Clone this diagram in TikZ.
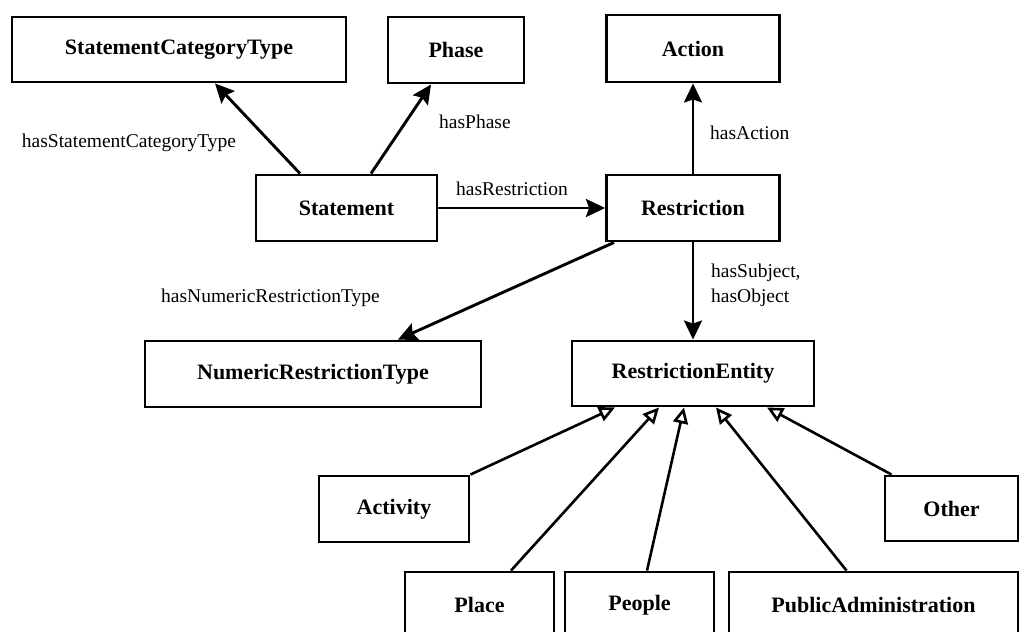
\documentclass[tikz,border=0pt]{standalone}
\usepackage{fontspec}
\setmainfont{Liberation Serif}
\usetikzlibrary{arrows.meta}
\begin{document}
\begin{tikzpicture}[x=1pt,y=-1pt,
  box/.style={draw,line width=2.9pt,inner sep=0pt,font=\bfseries\fontsize{22}{26}\selectfont},
  lbl/.style={inner sep=0pt,font=\fontsize{19.5}{25}\selectfont},
  rel/.style={line width=2.9pt,-{Stealth[length=19pt,width=18pt,inset=3pt]}},
  isa/.style={line width=2.6pt,-{Triangle[open,length=16pt,width=15pt,fill=white]}}]
\useasboundingbox (0,0) rectangle (1021,632);
% boxes
\node[box,minimum width=334pt,minimum height=65pt] (sct) at (179,49.5) {StatementCategoryType};
\node[box,minimum width=136pt,minimum height=66pt] (phase) at (456,50) {Phase};
\node[box,minimum width=173pt,minimum height=67pt] (action) at (693,48.5) {Action};
\node[box,minimum width=181pt,minimum height=66pt] (stmt) at (346.5,208) {Statement};
\node[box,minimum width=173pt,minimum height=66pt] (restr) at (693,208) {Restriction};
\node[box,minimum width=336pt,minimum height=66pt] (nrt) at (313,374) {NumericRestrictionType};
\node[box,minimum width=242pt,minimum height=65pt] (rent) at (693,373.5) {RestrictionEntity};
\node[box,minimum width=150pt,minimum height=66pt] (activity) at (394,509) {Activity};
\node[box,minimum width=133pt,minimum height=65pt] (other) at (951.5,508.5) {Other};
\node[box,minimum width=149pt,minimum height=66pt] (place) at (479.5,605) {Place};
\node[box,minimum width=149pt,minimum height=66pt] (people) at (639.5,605) {People};
\node[box,minimum width=289pt,minimum height=66pt] (pa) at (873.5,605) {PublicAdministration};
% relations
\draw[rel] ([xshift=-46.5pt]stmt.north) -- ([xshift=36pt]sct.south);
\draw[rel] ([xshift=24.5pt]stmt.north) -- ([xshift=-25pt]phase.south);
\draw[rel] (stmt.east) -- (restr.west);
\draw[rel] (restr.north) -- (action.south);
\draw[rel] ([xshift=-79pt]restr.south) -- ([xshift=85pt]nrt.north);
\draw[rel] (restr.south) -- (rent.north);
% inheritance
\draw[isa] (activity.north east) -- ([xshift=-78pt]rent.south);
\draw[isa] ([xshift=31.5pt]place.north) -- ([xshift=-34pt]rent.south);
\draw[isa] ([xshift=7.5pt]people.north) -- ([xshift=-9pt]rent.south);
\draw[isa] ([xshift=-27pt]pa.north) -- ([xshift=23pt]rent.south);
\draw[isa] ([xshift=8pt]other.north west) -- ([xshift=74pt]rent.south);
% labels
\node[lbl] (lsct) at (129,143) {hasStatementCategoryType};
\node[lbl,anchor=west] (lphase) at (439,122) {hasPhase};
\node[lbl] (lrestr) at (512,189) {hasRestriction};
\node[lbl,anchor=west] (laction) at (710,133) {hasAction};
\node[lbl,anchor=west] (lnrt) at (161,298) {hasNumericRestrictionType};
\node[lbl,anchor=west,align=left] (lso) at (711,285.5) {hasSubject,\\hasObject};
\end{tikzpicture}
\end{document}
